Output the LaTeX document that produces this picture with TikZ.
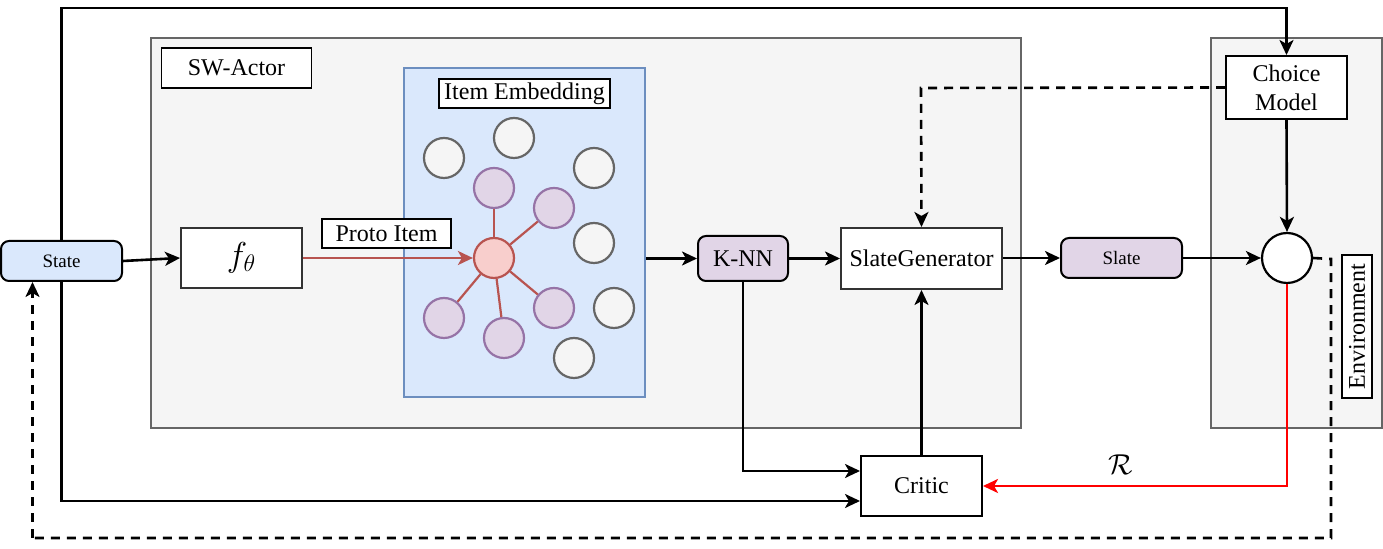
\documentclass[tikz,border=0pt]{standalone}
\usepackage{fontspec}
\setmainfont{Liberation Serif}
\usetikzlibrary{arrows.meta,calc}
\definecolor{cgrayfill}{HTML}{F5F5F5}
\definecolor{cgraydraw}{HTML}{666666}
\definecolor{cbluefill}{HTML}{DAE8FC}
\definecolor{cbluedraw}{HTML}{6C8EBF}
\definecolor{cpurpfill}{HTML}{E1D5E7}
\definecolor{cpurpdraw}{HTML}{9673A6}
\definecolor{credfill}{HTML}{F8CECC}
\definecolor{creddraw}{HTML}{B85450}
\definecolor{cboxdraw}{HTML}{333333}
\definecolor{cbright}{HTML}{FF0000}
\tikzset{
  container/.style={draw=cgraydraw, fill=cgrayfill, line width=1.3pt},
  lbl/.style={draw=black, fill=white, line width=0.6pt, inner sep=0pt, font=\fontsize{12}{14}\selectfont},
  blk/.style={draw=cboxdraw, fill=white, line width=1pt, inner sep=0pt, font=\fontsize{12}{14}\selectfont, align=center},
  rblk/.style={draw=black, rounded corners=4pt, line width=1pt, inner sep=0pt, font=\fontsize{12}{14}\selectfont},
  dotgray/.style={circle, draw=cgraydraw, fill=cgrayfill, line width=1.1pt, minimum size=20pt, inner sep=0pt},
  dotpurp/.style={circle, draw=cpurpdraw, fill=cpurpfill, line width=1.1pt, minimum size=20pt, inner sep=0pt},
  conn/.style={draw=black, line width=1.3pt},
  arr/.style={-{Stealth[length=7.5pt,width=7pt,inset=2pt]}},
  dsh/.style={dash pattern=on 4.5pt off 3.5pt},
  redline/.style={draw=creddraw, line width=1.1pt}
}
\begin{document}
\begin{tikzpicture}[x=0.5pt,y=-0.5pt]
\useasboundingbox (0,0) rectangle (1383,549);
% containers
\draw[container] (151,38) rectangle (1021,428);
\draw[container] (1211,38) rectangle (1382,428);
\node[lbl, minimum width=75pt, minimum height=20pt] (swlabel) at (236.5,68) {SW-Actor};
% item embedding panel
\node[draw=cbluedraw, fill=cbluefill, line width=1.3pt, minimum width=120.5pt, minimum height=164.5pt, inner sep=0pt] (panel) at (524.5,232.5) {};
\node[lbl, minimum width=85.5pt, minimum height=14.5pt] (ielabel) at (524.5,93.5) {Item Embedding};
% gray circles
\node[dotgray] (g1) at (444,158) {};
\node[dotgray] (g2) at (514,138) {};
\node[dotgray] (g3) at (594,168) {};
\node[dotgray] (g4) at (594,243) {};
\node[dotgray] (g5) at (614,308) {};
\node[dotgray] (g6) at (574,358) {};
% purple circles
\node[dotpurp] (p1) at (494,188) {};
\node[dotpurp] (p2) at (554,208) {};
\node[dotpurp] (p3) at (444,318) {};
\node[dotpurp] (p4) at (504,338) {};
\node[dotpurp] (p5) at (554,308) {};
% center
\node[circle, draw=creddraw, fill=credfill, line width=1.1pt, minimum size=20pt, inner sep=0pt] (proto) at (494,258) {};
\foreach \p in {p1,p2,p3,p4,p5} \draw[redline] (proto) -- (\p);
% blocks
\node[rblk, fill=cbluefill, minimum width=60.5pt, minimum height=20pt, font=\fontsize{9.5}{11}\selectfont] (state) at (61.5,261) {State};
\node[blk, minimum width=60.5pt, minimum height=30pt, font=\fontsize{18}{20}\selectfont] (f) at (241.5,258) {$f_\theta$};
\node[rblk, fill=cpurpfill, minimum width=45pt, minimum height=22.5pt] (knn) at (743,258.5) {K-NN};
\node[blk, minimum width=80.5pt, minimum height=30.5pt] (sg) at (921.5,258.5) {SlateGenerator};
\node[rblk, fill=cpurpfill, minimum width=60.5pt, minimum height=20pt, font=\fontsize{9.5}{11}\selectfont] (slate) at (1121.5,258) {Slate};
\node[circle, draw=black, fill=white, line width=1.1pt, minimum size=25pt, inner sep=0pt] (env) at (1287,258) {};
\node[blk, draw=black, minimum width=60.5pt, minimum height=31.5pt, font=\fontsize{12}{14.5}\selectfont] (choice) at (1286.5,87.5) {Choice\\Model};
\node[lbl, rotate=90, minimum width=71.5pt, minimum height=15pt] (envlabel) at (1357,326.5) {Environment};
\node[blk, draw=black, minimum width=60.5pt, minimum height=30pt] (critic) at (921.5,486) {Critic};
% coordinates
\coordinate (topY) at (0,8);
\coordinate (dashR) at (1331,259);
\coordinate (dashB) at (0,538);
\coordinate (stateIn) at ([xshift=-14.5pt]state.south);
\coordinate (dashL) at (921,88);
% connectors
\draw[conn, arr] (state.north) |- (topY -| choice.north) -- (choice.north);
\draw[conn, arr] (state.east) -- (f.west);
\draw[draw=creddraw, line width=1.3pt, arr] (f.east) -- (proto.west);
\node[lbl, minimum width=64.5pt, minimum height=14.5pt] (protolabel) at (386.5,233.5) {Proto Item};
\draw[conn, arr] (panel.east |- knn.west) -- (knn.west);
\draw[conn, arr] (knn.east) -- (sg.west |- knn.east);
\draw[conn, arr] (sg.east |- slate.west) -- (slate.west);
\draw[conn, arr] (slate.east) -- (env.west);
\draw[conn, arr] (choice.south) -- (env.north);
\draw[conn, arr] (critic.north) -- (sg.south);
\draw[conn, arr] (knn.south) |- ([yshift=7.5pt]critic.west);
\draw[conn, arr] (state.south) |- ([yshift=-7.5pt]critic.west);
\draw[draw=cbright, line width=1.3pt, arr] (env.south) |- (critic.east);
\node[font=\fontsize{15}{15}\selectfont] (rlabel) at (1121,465) {$\mathcal{R}$};
\draw[conn, dsh] (env.east) -- (dashR) -- (dashR |- dashB) -- (stateIn |- dashB);
\draw[conn, dsh, arr] (stateIn |- dashB) -- (stateIn);
\draw[conn, dsh, arr] (choice.west) -- (dashL) -- (sg.north);
\end{tikzpicture}
\end{document}
